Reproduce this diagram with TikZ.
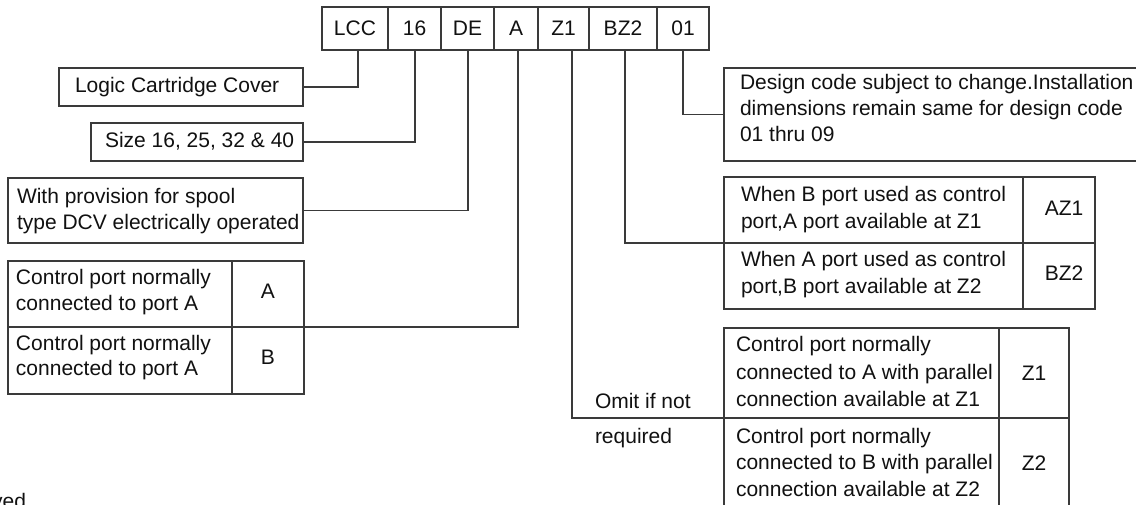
\documentclass[tikz,border=0pt]{standalone}
\usepackage{fontspec}
\setmainfont{Liberation Sans}
\definecolor{linec}{HTML}{3A3A3A}
\definecolor{textc}{HTML}{111111}
\begin{document}
\begin{tikzpicture}[x=1pt,y=-1pt,
  lc/.style={draw=linec, line width=1.1pt},
  cell/.style={draw=linec, line width=1.1pt, inner sep=0pt, outer sep=0pt, anchor=north west},
  txt/.style={inner sep=0pt, outer sep=0pt, anchor=base west, text=textc, font=\fontsize{21}{26.5}\selectfont},
  ctxt/.style={inner sep=0pt, outer sep=0pt, anchor=base, text=textc, font=\fontsize{21}{26.5}\selectfont}]
\useasboundingbox (0,0) rectangle (1136,505);
\clip (0,0) rectangle (1136,505);
\fill[white] (0,0) rectangle (1136,505);

% top code row
\node[cell, minimum width=66, minimum height=43] (lcc)  at (322,7) {};
\node[cell, minimum width=53, minimum height=43] (c16)  at (388,7) {};
\node[cell, minimum width=53, minimum height=43] (cde)  at (441,7) {};
\node[cell, minimum width=44, minimum height=43] (ca)   at (494,7) {};
\node[cell, minimum width=51, minimum height=43] (cz1)  at (538,7) {};
\node[cell, minimum width=68, minimum height=43] (cbz2) at (589,7) {};
\node[cell, minimum width=52, minimum height=43] (c01)  at (657,7) {};
\node[ctxt] (tlcc) at ([yshift=-7.5]lcc.center) {LCC};
\node[ctxt] (t16)  at ([yshift=-7.5]c16.center) {16};
\node[ctxt] (tde)  at ([yshift=-7.5]cde.center) {DE};
\node[ctxt] (ta)   at ([yshift=-7.5]ca.center) {A};
\node[ctxt] (tz1)  at ([yshift=-7.5]cz1.center) {Z1};
\node[ctxt] (tbz2) at ([yshift=-7.5]cbz2.center) {BZ2};
\node[ctxt] (t01)  at ([yshift=-7.5]c01.center) {01};

% left boxes
\node[cell, minimum width=244, minimum height=38] (logic) at (59,68) {};
\node[txt] (tlogic) at (75,93) {Logic Cartridge Cover};
\node[cell, minimum width=212, minimum height=38] (size) at (91,123) {};
\node[txt] (tsize) at (105,148) {Size 16, 25, 32 \& 40};
\node[cell, minimum width=295, minimum height=65] (prov) at (8,178) {};
\node[txt] (tprov1) at (17,204) {With provision for spool};
\node[txt] (tprov2) at (17,230) {type DCV electrically operated};

% left table
\node[cell, minimum width=224, minimum height=66] (cA1) at (8,261) {};
\node[cell, minimum width=72, minimum height=66] (cA2) at (232,261) {};
\node[cell, minimum width=224, minimum height=67] (cB1) at (8,327) {};
\node[cell, minimum width=72, minimum height=67] (cB2) at (232,327) {};
\node[txt] (tA1) at (16,285) {Control port normally};
\node[txt] (tA2) at (16,310) {connected to port A};
\node[txt] (tB1) at (16,350) {Control port normally};
\node[txt] (tB2) at (16,375) {connected to port A};
\node[ctxt] (tA) at (268,299) {A};
\node[ctxt] (tB) at (268,364) {B};

% design box
\node[cell, minimum width=440, minimum height=93] (design) at (724,68) {};
\node[txt] (td1) at (740,90) {Design code subject to change.Installation};
\node[txt] (td2) at (740,116) {dimensions remain same for design code};
\node[txt] (td3) at (740,142) {01 thru 09};

% AZ table
\node[cell, minimum width=299, minimum height=66] (az1a) at (724,177) {};
\node[cell, minimum width=72, minimum height=66] (az1b) at (1023,177) {};
\node[cell, minimum width=299, minimum height=66] (az2a) at (724,243) {};
\node[cell, minimum width=72, minimum height=66] (az2b) at (1023,243) {};
\node[txt] (taz11) at (741,202) {When B port used as control};
\node[txt] (taz12) at (741,229) {port,A port available at Z1};
\node[txt] (taz21) at (741,267) {When A port used as control};
\node[txt] (taz22) at (741,294) {port,B port available at Z2};
\node[ctxt] (tAZ1) at (1064,216) {AZ1};
\node[ctxt] (tBZ2) at (1064,281) {BZ2};

% Z table
\node[cell, minimum width=275, minimum height=90] (z1a) at (724,328) {};
\node[cell, minimum width=70, minimum height=90] (z1b) at (999,328) {};
\node[cell, minimum width=275, minimum height=90] (z2a) at (724,418) {};
\node[cell, minimum width=70, minimum height=90] (z2b) at (999,418) {};
\node[txt] (tz11) at (736,352) {Control port normally};
\node[txt] (tz12) at (736,379.5) {connected to A with parallel};
\node[txt] (tz13) at (736,406) {connection available at Z1};
\node[txt] (tz21) at (736,443) {Control port normally};
\node[txt] (tz22) at (736,469.5) {connected to B with parallel};
\node[txt] (tz23) at (736,496) {connection available at Z2};
\node[ctxt] (tZ1) at (1034,380) {Z1};
\node[ctxt] (tZ2) at (1034,470) {Z2};

\node[txt] (omit1) at (595,408) {Omit if not};
\node[txt] (omit2) at (595,443) {required};

\node[txt, anchor=base east] (yed) at (26,508) {yed};

% connectors
\draw[lc] ([xshift=3]lcc.south) |- (logic.east);
\draw[lc] ([xshift=0.5]c16.south) |- (size.east);
\draw[lc] ([xshift=0.5]cde.south) |- (prov.east);
\draw[lc] ([xshift=2]ca.south) |- (cA2.south east);
\draw[lc] ([xshift=8.5]cz1.south) |- (z1a.south west);
\draw[lc] ([xshift=2]cbz2.south) |- (az1a.south west);
\draw[lc] (c01.south) |- (design.west);
\end{tikzpicture}
\end{document}
